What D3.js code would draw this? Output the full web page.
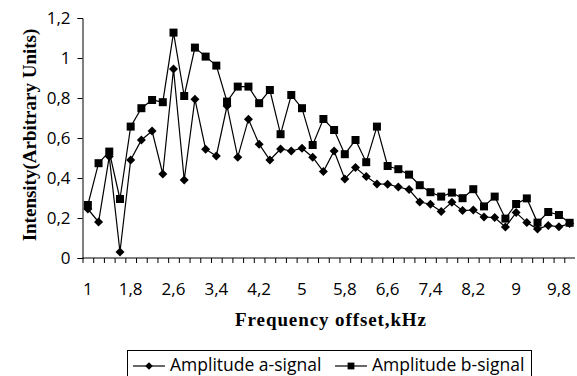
<!DOCTYPE html>
<html>
<head>
<meta charset="utf-8">
<script src="https://cdn.jsdelivr.net/npm/d3@7"></script>
<style>
  body { margin: 0; background: #fff; }
  svg { display: block; }
  .tick text { font-family: "Open Sans", "Noto Sans", sans-serif; }
</style>
</head>
<body>
<script>
// frequency offset categories (kHz)
let freq = [1, 1.2, 1.4, 1.6, 1.8, 2, 2.2, 2.4, 2.6, 2.8, 3, 3.2, 3.4, 3.6, 3.8, 4, 4.2, 4.4, 4.6, 4.8,
  5, 5.2, 5.4, 5.6, 5.8, 6, 6.2, 6.4, 6.6, 6.8, 7, 7.2, 7.4, 7.6, 7.8, 8, 8.2, 8.4, 8.6, 8.8,
  9, 9.2, 9.4, 9.6, 9.8, 10];

let ampA = [0.245, 0.18, 0.507, 0.03, 0.49, 0.59, 0.635, 0.42, 0.945, 0.39, 0.794, 0.544, 0.51, 0.76,
  0.504, 0.694, 0.569, 0.49, 0.545, 0.535, 0.549, 0.504, 0.432, 0.535, 0.395, 0.452, 0.407, 0.37,
  0.369, 0.355, 0.342, 0.28, 0.269, 0.232, 0.279, 0.237, 0.24, 0.205, 0.202, 0.155, 0.227, 0.177,
  0.145, 0.163, 0.156, 0.172];

let ampB = [0.265, 0.474, 0.532, 0.295, 0.657, 0.749, 0.79, 0.779, 1.127, 0.81, 1.052, 1.007, 0.962,
  0.782, 0.857, 0.857, 0.774, 0.84, 0.619, 0.815, 0.749, 0.565, 0.695, 0.64, 0.519, 0.59, 0.479,
  0.657, 0.46, 0.444, 0.417, 0.364, 0.329, 0.307, 0.327, 0.299, 0.344, 0.258, 0.307, 0.197, 0.27,
  0.298, 0.177, 0.23, 0.215, 0.176];

let yTicks = [0, 0.2, 0.4, 0.6, 0.8, 1, 1.2];
let xLabelled = [1, 1.8, 2.6, 3.4, 4.2, 5, 5.8, 6.6, 7.4, 8.2, 9, 9.8];

let series = [
  { name: "Amplitude a-signal", values: ampA, marker: "diamond" },
  { name: "Amplitude b-signal", values: ampB, marker: "square" }
];

let width = 577, height = 376;
let plotLeft = 82.5, plotRight = 575, plotTop = 18, plotBottom = 258;

let svg = d3.select("body").append("svg")
  .attr("width", width)
  .attr("height", height);

let x = d3.scaleBand()
  .domain(freq)
  .range([plotLeft, plotRight])
  .padding(0);

let y = d3.scaleLinear()
  .domain([0, 1.2])
  .range([plotBottom, plotTop]);

let comma = d => String(d).replace(".", ",");

// y axis
svg.append("g")
  .attr("transform", `translate(${plotLeft},0)`)
  .call(d3.axisLeft(y).tickValues(yTicks).tickFormat(comma).tickSize(5).tickPadding(7))
  .call(g => g.selectAll("text").style("font-size", "17px").attr("fill", "#000"))
  .call(g => g.select(".domain").attr("stroke", "#000"));

// x axis: ticks between categories, labels every 4th category
let xg = svg.append("g")
  .attr("transform", `translate(0,${plotBottom})`);
xg.append("line")
  .attr("x1", plotLeft).attr("x2", plotRight)
  .attr("stroke", "#000");
xg.selectAll("line.tk")
  .data(freq)
  .enter().append("line")
  .attr("class", "tk")
  .attr("x1", d => x(d) + 0.5).attr("x2", d => x(d) + 0.5)
  .attr("y1", 0).attr("y2", 5)
  .attr("stroke", "#000");
xg.selectAll("text")
  .data(xLabelled)
  .enter().append("text")
  .attr("x", d => x(d) + x.bandwidth() / 2)
  .attr("y", 37)
  .attr("text-anchor", "middle")
  .style("font-family", "'Open Sans', 'Noto Sans', sans-serif")
  .style("font-size", "17px")
  .text(comma);

// axis titles
svg.append("text")
  .attr("x", 331)
  .attr("y", 326)
  .attr("text-anchor", "middle")
  .style("font-family", "'Liberation Serif', serif")
  .style("font-weight", "bold")
  .style("font-size", "19px")
  .style("letter-spacing", "0.9px")
  .text("Frequency offset,kHz");

svg.append("text")
  .attr("transform", "translate(36,135) rotate(-90)")
  .attr("text-anchor", "middle")
  .style("font-family", "'Liberation Serif', serif")
  .style("font-weight", "bold")
  .style("font-size", "19px")
  .text("Intensity(Arbitrary Units)");

let line = d3.line()
  .x((d, i) => x(freq[i]) + x.bandwidth() / 2)
  .y(d => y(d));

let drawMarker = (sel, kind) => {
  if (kind === "square") {
    sel.append("rect")
      .attr("x", -4).attr("y", -4)
      .attr("width", 8).attr("height", 8)
      .attr("fill", "#000");
  } else {
    sel.append("path")
      .attr("d", "M0,-4.5L4.5,0L0,4.5L-4.5,0Z")
      .attr("fill", "#000");
  }
};

series.forEach(s => {
  svg.append("path")
    .datum(s.values)
    .attr("fill", "none")
    .attr("stroke", "#000")
    .attr("stroke-width", 1.2)
    .attr("d", line);
  svg.selectAll(null)
    .data(s.values)
    .enter().append("g")
    .attr("transform", (d, i) => `translate(${x(freq[i]) + x.bandwidth() / 2},${y(d)})`)
    .each(function () { drawMarker(d3.select(this), s.marker); });
});

// legend
let legend = svg.append("g");
legend.append("rect")
  .attr("x", 127.5).attr("y", 350.5)
  .attr("width", 404).attr("height", 40)
  .attr("fill", "none")
  .attr("stroke", "#000");

let legendX = [133, 335];
series.forEach((s, i) => {
  let g = legend.append("g").attr("transform", `translate(${legendX[i]},366)`);
  g.append("line").attr("x1", 0).attr("x2", 32).attr("stroke", "#000").attr("stroke-width", 1.2);
  let m = g.append("g").attr("transform", "translate(16,0) scale(0.85)");
  drawMarker(m, s.marker);
  g.append("text")
    .attr("x", 37)
    .attr("y", 5)
    .style("font-family", "'Open Sans', 'Noto Sans', sans-serif")
    .style("font-size", "17.5px")
    .text(s.name);
});
</script>
</body>
</html>
